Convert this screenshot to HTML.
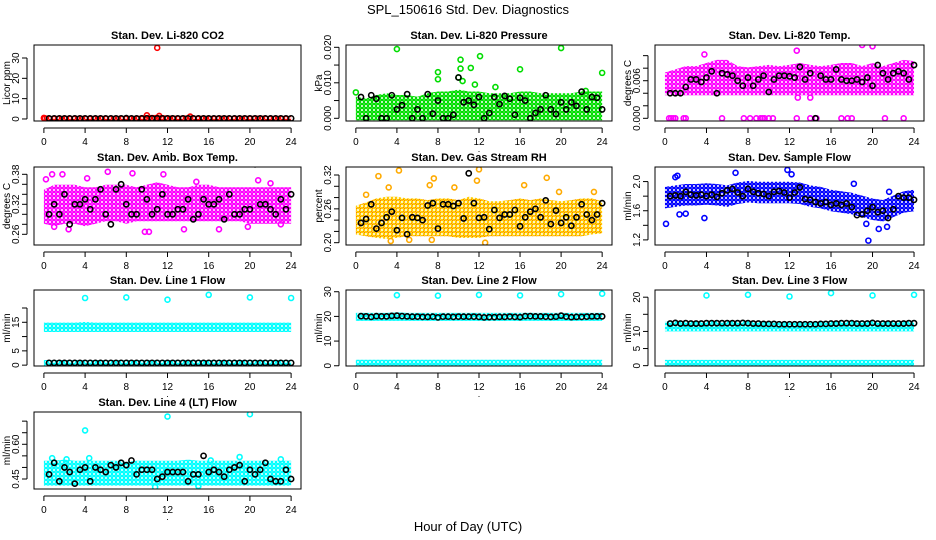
<!DOCTYPE html>
<html><head><meta charset="utf-8"><style>
html,body{margin:0;padding:0;background:#fff;}
svg{display:block;font-family:"Liberation Sans",sans-serif;}
</style></head><body>
<svg id="chart" width="936" height="540" viewBox="0 0 936 540" xmlns="http://www.w3.org/2000/svg">
<defs>
<pattern id="pat-red" width="4" height="4" patternUnits="userSpaceOnUse"><circle cx="2" cy="2" r="1.7" fill="none" stroke="#ff0000" stroke-width="1.4"/></pattern>
<pattern id="pat-green" width="4" height="4" patternUnits="userSpaceOnUse"><circle cx="2" cy="2" r="1.7" fill="none" stroke="#00dd00" stroke-width="1.4"/></pattern>
<pattern id="pat-magenta" width="4" height="4" patternUnits="userSpaceOnUse"><circle cx="2" cy="2" r="1.7" fill="none" stroke="#ff00ff" stroke-width="1.4"/></pattern>
<pattern id="pat-orange" width="4" height="4" patternUnits="userSpaceOnUse"><circle cx="2" cy="2" r="1.7" fill="none" stroke="#ffcc00" stroke-width="1.4"/><circle cx="0" cy="0" r="0.8" fill="#ff2000"/><circle cx="4" cy="4" r="0.8" fill="#ff2000"/></pattern>
<pattern id="pat-blue" width="4" height="4" patternUnits="userSpaceOnUse"><circle cx="2" cy="2" r="1.7" fill="none" stroke="#0000ff" stroke-width="1.4"/></pattern>
<pattern id="pat-cyan" width="4" height="4" patternUnits="userSpaceOnUse"><circle cx="2" cy="2" r="1.7" fill="none" stroke="#00ffff" stroke-width="1.5"/></pattern>
</defs>
<text x="468" y="14" font-size="13" text-anchor="middle">SPL_150616  Std. Dev. Diagnostics</text>
<text x="468" y="531" font-size="13" text-anchor="middle">Hour of Day (UTC)</text>
</svg>
<script>
// ---- shared time grids ----
const hours = [0,1,2,3,4,5,6,7,8,9,10,11,12,13,14,15,16,17,18,19,20,21,22,23,24];
const halfHours = [0.5,1,1.5,2,2.5,3,3.5,4,4.5,5,5.5,6,6.5,7,7.5,8,8.5,9,9.5,10,10.5,11,11.5,12,12.5,13,13.5,14,14.5,15,15.5,16,16.5,17,17.5,18,18.5,19,19.5,20,20.5,21,21.5,22,22.5,23,23.5,24];
const xTicks = [0,4,8,12,16,20,24];

// ---- P1 CO2 ----
const co2Lo = [0,0,0,0,0,0,0,0,0,0,0,0,0,0,0,0,0,0,0,0,0,0,0,0,0];
const co2Hi = [0.6,0.6,0.6,0.6,0.6,0.6,0.6,0.6,0.6,0.6,1.0,1.0,0.8,0.7,0.8,0.7,0.6,0.7,0.6,0.6,0.7,0.7,0.6,0.6,0.6];
const co2OutX = [11,10,11.2,14.2,0,0.1];
const co2OutY = [35,1.8,1.5,1.2,0.5,0.3];
const co2Mean = [0.3,0.3,0.3,0.3,0.3,0.3,0.3,0.3,0.3,0.3,0.3,0.3,0.3,0.3,0.3,0.4,0.3,0.3,0.3,0.3,0.3,0.3,0.3,0.3,0.3,0.3,0.3,0.3,0.3,0.3,0.3,0.3,0.3,0.3,0.3,0.3,0.3,0.3,0.3,0.3,0.3,0.3,0.3,0.3,0.3,0.3,0.3,0.3];

// ---- P2 Pressure ----
const prLo = [0,0,0,0,0,0,0,0,0,0,0,0,0,0,0,0,0,0,0,0,0,0,0,0,0];
const prHi = [0.0055,0.005,0.006,0.0065,0.006,0.006,0.0055,0.0065,0.007,0.007,0.0075,0.007,0.007,0.0065,0.0065,0.0065,0.007,0.007,0.0065,0.0065,0.0065,0.0065,0.007,0.007,0.007];
const prOutX = [4,8,8,10,10.2,10.2,10.4,11.2,11.6,12.1,13.6,16,20,24,0,22.4];
const prOutY = [0.0195,0.013,0.011,0.0115,0.0165,0.014,0.0105,0.0142,0.0095,0.0175,0.0088,0.0138,0.0198,0.0128,0.0073,0.0077];
const prMean = [0.006,0,0.0065,0.0055,0,0,0.0065,0.0025,0.0037,0.0068,0,0.0025,0,0.0068,0.0013,0.005,0,0,0.001,0.0115,0.0045,0.005,0.0038,0.006,0,0.0015,0.006,0.004,0.0063,0.0055,0.001,0.0058,0.005,0,0.0015,0.0025,0.0065,0.0025,0.0012,0.0045,0.0025,0.0045,0.0035,0.0075,0.0025,0.006,0.0058,0.0025];

// ---- P3 Li-820 Temp ----
const ltLo = [0.004,0.004,0.004,0.004,0.004,0.004,0.004,0.004,0.004,0.004,0.004,0.004,0.004,0.004,0.004,0.004,0.004,0.004,0.004,0.004,0.004,0.004,0.004,0.004,0.004];
const ltHi = [0.007,0.0075,0.008,0.008,0.0085,0.009,0.009,0.008,0.0078,0.008,0.0082,0.008,0.0082,0.0085,0.0082,0.008,0.0082,0.0085,0.0085,0.008,0.0085,0.008,0.0085,0.009,0.0088];
const ltOutX = [0.4,0.6,0.8,1,1.8,2,5.5,7.6,8.2,8.8,9.2,9.4,9.6,10,10.4,12.7,14,14.6,17,17.6,18,21.2,23,19,20,12.7,3.8,12.8,14];
const ltOutY = [0,0,0,0,0,0,0,0,0,0,0,0,0,0,0,0,0,0,0,0,0,0,0,0.0117,0.0115,0.0108,0.0102,0.0033,0.0033];
const ltMean = [0.004,0.004,0.004,0.005,0.0062,0.0062,0.0058,0.0065,0.0075,0.004,0.0072,0.007,0.0068,0.006,0.0052,0.0065,0.0052,0.0062,0.0068,0.0042,0.0062,0.0068,0.0068,0.0067,0.0065,0.0082,0.0062,0.0072,0,0.0068,0.0062,0.0062,0.0078,0.0062,0.006,0.006,0.0062,0.0058,0.0065,0.0052,0.0085,0.0072,0.0062,0.0072,0.0075,0.0072,0.0062,0.0085];

// ---- P4 Amb Box Temp ----
const abLo = [0.285,0.28,0.285,0.285,0.28,0.285,0.29,0.29,0.285,0.29,0.29,0.29,0.29,0.29,0.29,0.29,0.29,0.29,0.29,0.29,0.285,0.285,0.285,0.285,0.285];
const abHi = [0.345,0.355,0.355,0.355,0.35,0.35,0.355,0.355,0.355,0.35,0.355,0.36,0.355,0.35,0.35,0.355,0.355,0.35,0.35,0.35,0.35,0.35,0.35,0.35,0.35];
const abOutX = [0.2,0.8,1.8,6.2,8.6,11.6,9.8,10.2,13.6,2.4,1,17,19.8,23,4.2,14.8,20.8,22];
const abOutY = [0.37,0.38,0.38,0.385,0.382,0.38,0.265,0.265,0.27,0.27,0.275,0.27,0.275,0.28,0.372,0.365,0.368,0.362];
const abMean = [0.30,0.32,0.30,0.34,0.28,0.32,0.32,0.33,0.31,0.33,0.35,0.30,0.28,0.35,0.36,0.32,0.30,0.30,0.35,0.33,0.30,0.31,0.34,0.30,0.30,0.31,0.31,0.33,0.29,0.30,0.33,0.32,0.32,0.33,0.29,0.34,0.30,0.30,0.31,0.31,0.40,0.32,0.32,0.31,0.30,0.33,0.31,0.34];

// ---- P5 Gas Stream RH ----
const rhLo = [0.218,0.215,0.212,0.21,0.212,0.215,0.215,0.215,0.215,0.215,0.212,0.212,0.212,0.215,0.215,0.215,0.215,0.215,0.215,0.215,0.215,0.215,0.215,0.218,0.22];
const rhHi = [0.262,0.268,0.275,0.278,0.278,0.275,0.275,0.272,0.275,0.275,0.272,0.278,0.275,0.27,0.27,0.272,0.275,0.272,0.275,0.272,0.27,0.272,0.275,0.275,0.27];
const rhOutX = [2.2,4.2,3.2,7.6,12,11.8,18.6,16.4,12.6,5.2,7.4,3.4,1,7.2,9.6,19.8,23.2];
const rhOutY = [0.318,0.328,0.298,0.314,0.33,0.31,0.315,0.302,0.2,0.205,0.205,0.203,0.285,0.302,0.298,0.29,0.29];
const rhMean = [0.235,0.242,0.268,0.225,0.235,0.245,0.255,0.222,0.244,0.215,0.245,0.244,0.24,0.266,0.27,0.225,0.268,0.268,0.265,0.27,0.243,0.323,0.27,0.244,0.245,0.224,0.258,0.244,0.25,0.25,0.258,0.229,0.245,0.255,0.26,0.245,0.275,0.233,0.257,0.235,0.245,0.23,0.245,0.268,0.25,0.24,0.25,0.27];

// ---- P6 Sample Flow ----
const sfLo = [1.66,1.68,1.7,1.7,1.71,1.7,1.68,1.72,1.74,1.73,1.73,1.73,1.73,1.72,1.68,1.66,1.62,1.6,1.58,1.54,1.5,1.48,1.54,1.6,1.62];
const sfHi = [1.9,1.92,1.94,1.94,1.95,1.94,1.92,1.96,1.98,1.97,1.97,1.97,1.97,1.96,1.92,1.9,1.86,1.84,1.82,1.78,1.74,1.72,1.78,1.84,1.86];
const sfOutX = [0.1,1.2,6.8,11.8,12.2,19.6,20.6,21.4,3.8,18.2,1.4,21.6,1,2,19.4];
const sfOutY = [1.42,2.08,2.12,2.16,2.1,1.19,1.35,1.38,1.5,1.97,1.55,1.86,2.06,1.56,1.42];
const sfMean = [1.8,1.81,1.8,1.86,1.82,1.81,1.82,1.8,1.82,1.79,1.84,1.88,1.9,1.85,1.8,1.9,1.86,1.84,1.83,1.8,1.86,1.87,1.85,1.78,1.85,1.92,1.76,1.75,1.72,1.7,1.72,1.68,1.7,1.68,1.7,1.65,1.54,1.55,1.6,1.65,1.58,1.6,1.5,1.62,1.8,1.78,1.78,1.75];

// ---- P7 Line 1 Flow ----
const l1Lo = [12.3,12.3,12.3,12.3,12.3,12.3,12.3,12.3,12.3,12.3,12.3,12.3,12.3,12.3,12.3,12.3,12.3,12.3,12.3,12.3,12.3,12.3,12.3,12.3,12.3];
const l1Hi = [14.2,14.2,14.2,14.2,14.4,14.2,14.2,14.2,14.2,14.2,14.2,14.2,14.2,14.2,14.2,14.2,14.2,14.2,14.2,14.2,14.2,14.2,14.2,14.2,14.2];
const l1Lo2 = [0,0,0,0,0,0,0,0,0,0,0,0,0,0,0,0,0,0,0,0,0,0,0,0,0];
const l1Hi2 = [1.1,1.1,1.1,1.1,1.1,1.1,1.1,1.1,1.1,1.1,1.1,1.1,1.1,1.1,1.1,1.1,1.1,1.1,1.1,1.1,1.1,1.1,1.1,1.1,1.1];
const l1OutX = [4,8,12,16,20,24];
const l1OutY = [23.5,23.7,22.9,24.6,23.7,23.5];
const l1Mean = [0.8,0.8,0.8,0.8,0.8,0.8,0.8,0.8,0.8,0.8,0.8,0.8,0.8,0.8,0.8,0.8,0.8,0.8,0.8,0.8,0.8,0.8,0.8,0.8,0.8,0.8,0.8,0.8,0.8,0.8,0.8,0.8,0.8,0.8,0.8,0.8,0.8,0.8,0.8,0.8,0.8,0.8,0.8,0.8,0.8,0.8,0.8,0.8];

// ---- P8 Line 2 Flow ----
const l2Lo = [19,19,19,19,19,19,19,19,19,19,19,19,19,19,19,19,19,19,19,19,19,19,19,19,19];
const l2Hi = [20.6,20.6,20.6,20.6,20.8,20.6,20.6,20.6,20.6,20.6,20.6,20.6,20.6,20.6,20.6,20.6,20.6,20.6,20.6,20.6,20.6,20.6,20.6,20.6,20.6];
const l2Lo2 = [0,0,0,0,0,0,0,0,0,0,0,0,0,0,0,0,0,0,0,0,0,0,0,0,0];
const l2Hi2 = [1.6,1.6,1.6,1.6,1.6,1.6,1.6,1.6,1.6,1.6,1.6,1.6,1.6,1.6,1.6,1.6,1.6,1.6,1.6,1.6,1.6,1.6,1.6,1.6,1.6];
const l2OutX = [4,8,12,16,20,24];
const l2OutY = [28.6,28.4,28.7,28.5,29,29.2];
const l2Mean = [20.1,20,19.8,20.1,20,20,20.2,20.3,20.1,20,19.9,19.9,19.8,19.8,19.9,19.6,19.9,19.9,19.8,19.9,19.9,19.9,19.9,19.8,19.6,19.7,19.7,19.8,19.8,19.9,19.8,19.7,20.1,20.1,20,20,19.9,19.8,19.9,20.3,19.9,19.7,19.8,19.8,19.9,20,20,20];

// ---- P9 Line 3 Flow ----
const l3Lo = [10.6,10.6,10.6,10.6,10.6,10.6,10.6,10.6,10.6,10.6,10.6,10.6,10.6,10.6,10.6,10.6,10.6,10.6,10.6,10.6,10.6,10.6,10.6,10.6,10.6];
const l3Hi = [12.4,12.4,12.4,12.4,12.4,12.4,12.4,12.4,12.4,12.4,12.4,12.3,12.2,12.2,12.2,12.4,12.4,12.5,12.5,12.5,12.4,12.4,12.4,12.4,12.4];
const l3Lo2 = [0,0,0,0,0,0,0,0,0,0,0,0,0,0,0,0,0,0,0,0,0,0,0,0,0];
const l3Hi2 = [1.1,1.1,1.1,1.1,1.1,1.1,1.1,1.1,1.1,1.1,1.1,1.1,1.1,1.1,1.1,1.1,1.1,1.1,1.1,1.1,1.1,1.1,1.1,1.1,1.1];
const l3OutX = [4,8,12,16,20,24];
const l3OutY = [20.5,20.7,20.2,21.2,20.5,20.7];
const l3Mean = [12.3,12.5,12.3,12.4,12.3,12.3,12.3,12.4,12.4,12.4,12.4,12.4,12.4,12.4,12.5,12.4,12.3,12.3,12.2,12.2,12.2,12.1,12.1,12.1,12.1,12.1,12.1,12.1,12.1,12.2,12.2,12.3,12.3,12.4,12.4,12.4,12.3,12.3,12.3,12.5,12.3,12.3,12.3,12.3,12.3,12.3,12.4,12.4];

// ---- P10 Line 4 (LT) Flow ----
const l4Lo = [0.43,0.43,0.43,0.43,0.43,0.43,0.43,0.43,0.43,0.43,0.43,0.43,0.43,0.43,0.43,0.43,0.43,0.43,0.43,0.43,0.43,0.43,0.43,0.43,0.43];
const l4Hi = [0.52,0.52,0.525,0.52,0.52,0.52,0.52,0.52,0.515,0.52,0.52,0.52,0.52,0.52,0.525,0.52,0.52,0.52,0.52,0.52,0.52,0.52,0.52,0.52,0.52];
const l4OutX = [4,12,20,0.8,4.4,19,16.2,2.2,10.8,15,23];
const l4OutY = [0.66,0.72,0.73,0.54,0.54,0.545,0.53,0.535,0.415,0.42,0.535];
const l4Mean = [0.47,0.52,0.44,0.50,0.48,0.43,0.49,0.50,0.44,0.50,0.49,0.48,0.51,0.50,0.52,0.51,0.53,0.47,0.49,0.49,0.49,0.45,0.46,0.48,0.48,0.48,0.48,0.44,0.47,0.47,0.55,0.48,0.49,0.48,0.46,0.49,0.50,0.51,0.44,0.49,0.47,0.49,0.52,0.45,0.44,0.44,0.49,0.45];

const NS = "http://www.w3.org/2000/svg";
const svg = document.getElementById('chart');
const cols = [[34,301],[346,612],[655,924]];
const rows = [[45,121],[167,245],[290,366],[412,489]];
const XLO = -0.96, XHI = 24.96;

const panels = [
 {name:'co2',title:'Stan. Dev. Li-820 CO2',ylab:'Licor ppm',c:0,r:0,ylo:-1,yhi:36.4,ticks:[0,10,20,30],labels:['0','10','20','30'],col:'#ff0000',pat:'red',bands:[[co2Lo,co2Hi]],ox:co2OutX,oy:co2OutY,mean:co2Mean},
 {name:'pressure',title:'Stan. Dev. Li-820 Pressure',ylab:'kPa',c:1,r:0,ylo:-0.00076,yhi:0.02065,ticks:[0,0.005,0.01,0.015,0.02],labels:['0.000','','0.010','','0.020'],col:'#00dd00',pat:'green',bands:[[prLo,prHi]],ox:prOutX,oy:prOutY,mean:prMean},
 {name:'li820-temp',title:'Stan. Dev. Li-820 Temp.',ylab:'degrees C',c:2,r:0,ylo:-0.00043,yhi:0.0117,ticks:[0,0.002,0.004,0.006,0.008,0.01],labels:['0.000','','','0.006','',''],col:'#ff00ff',pat:'magenta',bands:[[ltLo,ltHi]],ox:ltOutX,oy:ltOutY,mean:ltMean},
 {name:'amb-box-temp',title:'Stan. Dev. Amb. Box Temp.',ylab:'degrees C',c:0,r:1,ylo:0.2386,yhi:0.3946,ticks:[0.26,0.28,0.30,0.32,0.34,0.36,0.38],labels:['0.26','','','0.32','','','0.38'],col:'#ff00ff',pat:'magenta',bands:[[abLo,abHi]],ox:abOutX,oy:abOutY,mean:abMean},
 {name:'gas-stream-rh',title:'Stan. Dev. Gas Stream RH',ylab:'percent',c:1,r:1,ylo:0.1959,yhi:0.3342,ticks:[0.20,0.22,0.24,0.26,0.28,0.30,0.32],labels:['0.20','','','0.26','','','0.32'],col:'#ffaa00',pat:'orange',bands:[[rhLo,rhHi]],ox:rhOutX,oy:rhOutY,mean:rhMean},
 {name:'sample-flow',title:'Stan. Dev. Sample Flow',ylab:'ml/min',c:2,r:1,ylo:1.13,yhi:2.2,ticks:[1.2,1.4,1.6,1.8,2.0],labels:['1.2','','1.6','','2.0'],col:'#0000ff',pat:'blue',bands:[[sfLo,sfHi]],ox:sfOutX,oy:sfOutY,mean:sfMean},
 {name:'line1-flow',title:'Stan. Dev. Line 1 Flow',ylab:'ml/min',c:0,r:2,ylo:-0.3,yhi:26.3,ticks:[0,5,10,15,20],labels:['0','5','','15',''],col:'#00ffff',pat:'cyan',bands:[[l1Lo,l1Hi],[l1Lo2,l1Hi2]],ox:l1OutX,oy:l1OutY,mean:l1Mean},
 {name:'line2-flow',title:'Stan. Dev. Line 2 Flow',ylab:'ml/min',c:1,r:2,ylo:-0.1,yhi:30.7,ticks:[0,10,20,30],labels:['0','10','20','30'],col:'#00ffff',pat:'cyan',bands:[[l2Lo,l2Hi],[l2Lo2,l2Hi2]],ox:l2OutX,oy:l2OutY,mean:l2Mean},
 {name:'line3-flow',title:'Stan. Dev. Line 3 Flow',ylab:'ml/min',c:2,r:2,ylo:-0.1,yhi:22.1,ticks:[0,5,10,15,20],labels:['0','5','10','','20'],col:'#00ffff',pat:'cyan',bands:[[l3Lo,l3Hi],[l3Lo2,l3Hi2]],ox:l3OutX,oy:l3OutY,mean:l3Mean},
 {name:'line4-flow',title:'Stan. Dev. Line 4 (LT) Flow',ylab:'ml/min',c:0,r:3,ylo:0.4068,yhi:0.7395,ticks:[0.45,0.5,0.55,0.6,0.65,0.7],labels:['0.45','','','0.60','',''],col:'#00ffff',pat:'cyan',bands:[[l4Lo,l4Hi]],ox:l4OutX,oy:l4OutY,mean:l4Mean}
];

function mk(tag, attrs, parent){
  const e = document.createElementNS(NS, tag);
  for (const k in attrs) e.setAttribute(k, attrs[k]);
  parent.appendChild(e);
  return e;
}

panels.forEach(p => {
  const x0 = cols[p.c][0], x1 = cols[p.c][1], y0 = rows[p.r][0], y1 = rows[p.r][1];
  const sx = v => x0 + (v - XLO) / (XHI - XLO) * (x1 - x0);
  const sy = v => y1 - (v - p.ylo) / (p.yhi - p.ylo) * (y1 - y0);
  const g = mk('g', {}, svg);
  
  

  const clipId = 'clip-' + p.name;
  const cp = mk('clipPath', {id: clipId}, g);
  mk('rect', {x: x0, y: y0, width: x1 - x0, height: y1 - y0}, cp);
  const plot = mk('g', {'clip-path': 'url(#' + clipId + ')'}, g);

  p.bands.forEach(b => {
    const lo = b[0], hi = b[1];
    let pts = [];
    hours.forEach((h, i) => pts.push(sx(h) + ',' + (sy(hi[i]) - 2)));
    for (let i = hours.length - 1; i >= 0; i--) pts.push(sx(hours[i]) + ',' + (sy(lo[i]) + 2));
    const poly = mk('polygon', {points: pts.join(' '), fill: 'url(#pat-' + p.pat + ')'}, plot);
    
    
  });
  p.ox.forEach((xv, i) => {
    const c = mk('circle', {cx: sx(xv), cy: sy(p.oy[i]), r: 2.5, fill: 'none', stroke: p.col, 'stroke-width': 1.6}, plot);
    
    
  });
  p.mean.forEach((v, i) => {
    const c = mk('circle', {cx: sx(halfHours[i]), cy: sy(v), r: 2.6, fill: 'none', stroke: '#000', 'stroke-width': 1.6}, plot);
    
    
  });

  const box = mk('rect', {x: x0, y: y0, width: x1 - x0, height: y1 - y0, fill: 'none', stroke: '#000', 'stroke-width': 1}, g);
  
  

  const t = mk('text', {x: (x0 + x1) / 2, y: y0 - 6, 'font-size': 11, 'font-weight': 'bold', 'text-anchor': 'middle'}, g);
  t.textContent = p.title;
  
  

  const xa = mk('g', {}, g);
  
  
  const ay = y1 + 7;
  mk('line', {x1: sx(xTicks[0]), x2: sx(xTicks[xTicks.length - 1]), y1: ay, y2: ay, stroke: '#000'}, xa);
  xTicks.forEach(v => {
    mk('line', {x1: sx(v), x2: sx(v), y1: ay, y2: ay + 5, stroke: '#000'}, xa);
    const tl = mk('text', {x: sx(v), y: ay + 17, 'font-size': 10, 'text-anchor': 'middle'}, xa);
    tl.textContent = String(v);
    
    
  });
  const dot = mk('text', {x: (x0 + x1) / 2, y: ay + 24, 'font-size': 9, 'text-anchor': 'middle'}, xa);
  dot.textContent = '.';

  const ya = mk('g', {}, g);
  
  
  const ax = x0 - 7;
  mk('line', {x1: ax, x2: ax, y1: sy(p.ticks[0]), y2: sy(p.ticks[p.ticks.length - 1]), stroke: '#000'}, ya);
  p.ticks.forEach((v, i) => {
    mk('line', {x1: ax - 5, x2: ax, y1: sy(v), y2: sy(v), stroke: '#000'}, ya);
    if (p.labels[i]) {
      const yl = mk('text', {x: 0, y: 0, 'font-size': 10, 'text-anchor': 'middle', transform: 'translate(' + (ax - 8) + ',' + sy(v) + ') rotate(-90)'}, ya);
      yl.textContent = p.labels[i];
      
      
    }
  });
  const yt = mk('text', {x: 0, y: 0, 'font-size': 10, 'text-anchor': 'middle', transform: 'translate(' + (x0 - 24) + ',' + ((y0 + y1) / 2) + ') rotate(-90)'}, ya);
  yt.textContent = p.ylab;
  
  
});
</script>
</body></html>
